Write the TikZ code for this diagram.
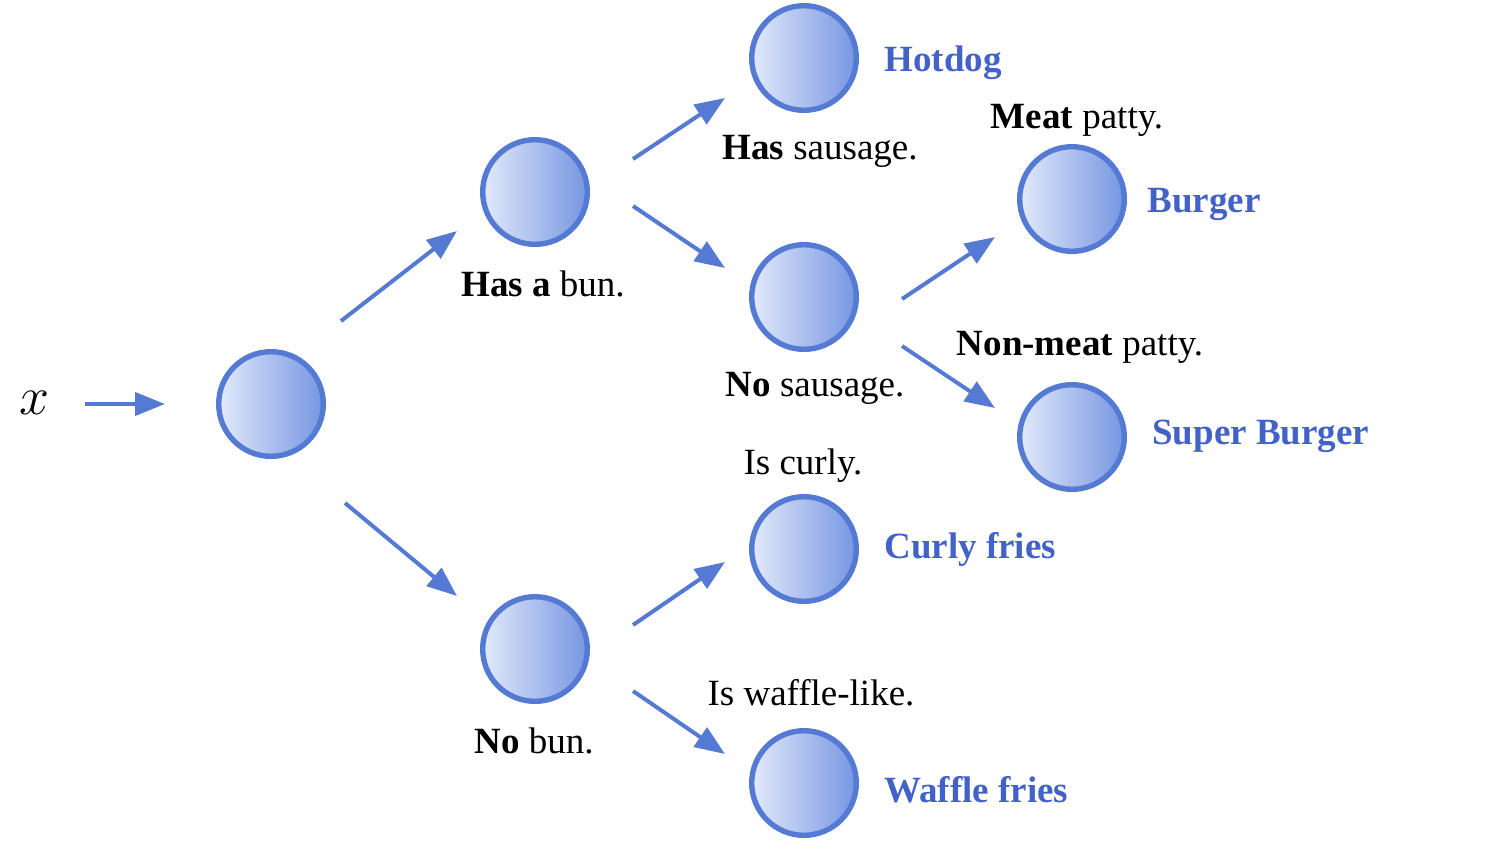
\documentclass[tikz,border=0pt]{standalone}
\usepackage{fontspec}
\setmainfont{Liberation Serif}
\usetikzlibrary{arrows.meta,calc}
\definecolor{nodeblue}{RGB}{84,122,212}
\definecolor{lightfill}{RGB}{226,233,250}
\definecolor{darkfill}{RGB}{118,150,226}
\definecolor{textblue}{RGB}{66,98,200}
\tikzset{
  unit/.style={circle, draw=nodeblue, line width=2.7pt, minimum size=52.3pt, inner sep=0pt, left color=lightfill, right color=darkfill},
  arr/.style={draw=nodeblue, line width=2pt, -{Triangle[length=15pt,width=11.5pt]}},
  lbl/.style={anchor=base, font=\fontsize{18.5}{22}\selectfont, inner sep=0pt},
  cls/.style={anchor=base west, font=\fontsize{18.5}{22}\selectfont\bfseries, text=textblue, inner sep=0pt}
}
\begin{document}
\begin{tikzpicture}[x=0.5pt,y=-0.5pt]
\useasboundingbox (0,0) rectangle (1500,843);
% nodes
\node[unit] (root) at (271,404) {};
\node[unit] (hasbun) at (535,192) {};
\node[unit] (nobun) at (535,649) {};
\node[unit] (hotdog) at (804,58) {};
\node[unit] (nosausage) at (804,297) {};
\node[unit] (burger) at (1072,199) {};
\node[unit] (super) at (1072,437) {};
\node[unit] (curly) at (804,549) {};
\node[unit] (waffle) at (804,783) {};
\node[inner sep=0pt, font=\fontsize{20}{24}\selectfont] (x) at (35,403) {\scalebox{1.3}{$x$}};
% arrows
\draw[arr] ($(x)+(50,1)$) -- ($(root)+(-106,0)$);
\draw[arr] ($(root)+(70,-83)$) -- ($(hasbun)+(-78,39)$);
\draw[arr] ($(root)+(74,99)$) -- ($(nobun)+(-78,-53)$);
\draw[arr] ($(hasbun)+(98,-33)$) -- ($(hotdog)+(-79,40)$);
\draw[arr] ($(hasbun)+(98,14)$) -- ($(nosausage)+(-79,-29)$);
\draw[arr] ($(nosausage)+(98,2)$) -- ($(burger)+(-77,38)$);
\draw[arr] ($(nosausage)+(98,49)$) -- ($(super)+(-77,-29)$);
\draw[arr] ($(nobun)+(98,-24)$) -- ($(curly)+(-79,13)$);
\draw[arr] ($(nobun)+(98,42)$) -- ($(waffle)+(-79,-29)$);
% condition labels
\node[lbl] (l1) at (820,159) {\textbf{Has} sausage.};
\node[lbl] (l2) at (1077,128) {\textbf{Meat} patty.};
\node[lbl] (l3) at (543,296) {\textbf{Has a} bun.};
\node[lbl] (l4) at (815,396) {\textbf{No} sausage.};
\node[lbl] (l5) at (1080,355) {\textbf{Non-meat} patty.};
\node[lbl] (l6) at (803,474) {Is curly.};
\node[lbl] (l7) at (811,705) {Is waffle-like.};
\node[lbl] (l8) at (534,753) {\textbf{No} bun.};
% class labels
\node[cls] (c1) at (884,71) {Hotdog};
\node[cls] (c2) at (1147,212) {Burger};
\node[cls] (c3) at (1152,444) {Super Burger};
\node[cls] (c4) at (884,558) {Curly fries};
\node[cls] (c5) at (884,802) {Waffle fries};
\end{tikzpicture}
\end{document}
